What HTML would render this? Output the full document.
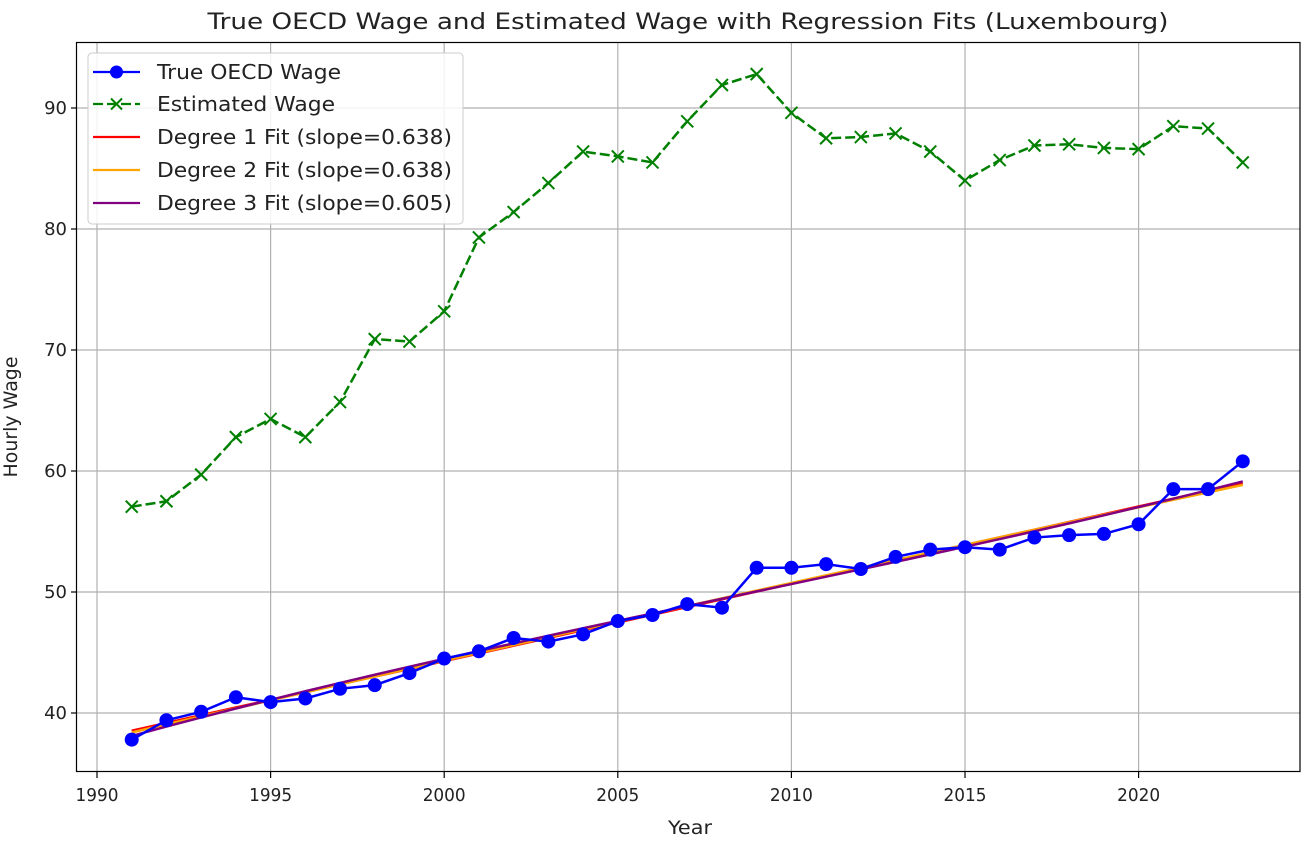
<!DOCTYPE html>
<html><head><meta charset="utf-8"><style>
body{margin:0;background:#fff;}
svg text{font-family:"DejaVu Sans","Liberation Sans",sans-serif;fill:#222;}
</style></head><body>
<svg id="chart" width="1304" height="840" viewBox="0 0 1304 840" xmlns="http://www.w3.org/2000/svg">
<rect x="0" y="0" width="1304" height="840" fill="#fff"/>
<text x="688" y="29" font-size="22" text-anchor="middle" textLength="961" lengthAdjust="spacingAndGlyphs">True OECD Wage and Estimated Wage with Regression Fits (Luxembourg)</text>
<g id="grid"></g>
<g id="fits"></g>
<g id="series"></g>
<rect x="76.5" y="42.5" width="1223.5" height="729" fill="none" stroke="#000" stroke-width="1.2"/>
<g id="ticks"></g>
<text x="690" y="834" font-size="19" text-anchor="middle" textLength="44" lengthAdjust="spacingAndGlyphs">Year</text>
<text transform="translate(17,417) rotate(-90)" font-size="19" text-anchor="middle" textLength="121" lengthAdjust="spacingAndGlyphs">Hourly Wage</text>
<g id="legend">
<rect x="88" y="53" width="375" height="171" rx="4" fill="#fff" fill-opacity="0.85" stroke="#ccc"/>
<g><line x1="93" y1="72" x2="140" y2="72" stroke="#0000ff" stroke-width="2.2"/><circle cx="116.5" cy="72" r="6.5" fill="#0000ff"/><text x="157" y="79" font-size="20" textLength="184" lengthAdjust="spacingAndGlyphs">True OECD Wage</text></g>
<g><line x1="93" y1="104" x2="140" y2="104" stroke="#008000" stroke-width="2.2" stroke-dasharray="10,4"/><path d="M111,98.5 L122,109.5 M111,109.5 L122,98.5" stroke="#008000" stroke-width="2"/><text x="157" y="111" font-size="20" textLength="178" lengthAdjust="spacingAndGlyphs">Estimated Wage</text></g>
<g><line x1="93" y1="137" x2="140" y2="137" stroke="#ff0000" stroke-width="2.2"/><text x="157" y="144" font-size="20" textLength="295" lengthAdjust="spacingAndGlyphs">Degree 1 Fit (slope=0.638)</text></g>
<g><line x1="93" y1="170" x2="140" y2="170" stroke="#ffa500" stroke-width="2.2"/><text x="157" y="177" font-size="20" textLength="295" lengthAdjust="spacingAndGlyphs">Degree 2 Fit (slope=0.638)</text></g>
<g><line x1="93" y1="203" x2="140" y2="203" stroke="#800080" stroke-width="2.2"/><text x="157" y="210" font-size="20" textLength="295" lengthAdjust="spacingAndGlyphs">Degree 3 Fit (slope=0.605)</text></g>
</g>
</svg>
<script>
const years=[1991,1992,1993,1994,1995,1996,1997,1998,1999,2000,2001,2002,2003,2004,2005,2006,2007,2008,2009,2010,2011,2012,2013,2014,2015,2016,2017,2018,2019,2020,2021,2022,2023];
const trueWage=[37.8,39.4,40.1,41.3,40.9,41.2,42.0,42.3,43.3,44.5,45.1,46.2,45.9,46.5,47.6,48.1,49.0,48.7,52.0,52.0,52.3,51.9,52.9,53.5,53.7,53.5,54.5,54.7,54.8,55.6,58.5,58.5,60.8];
const estWage=[57.05,57.5,59.7,62.8,64.3,62.8,65.7,70.9,70.7,73.2,79.3,81.4,83.8,86.4,86.0,85.5,88.9,91.9,92.8,89.6,87.5,87.6,87.9,86.4,84.0,85.7,86.9,87.0,86.7,86.6,88.5,88.3,85.5];
const xTicks=[1990,1995,2000,2005,2010,2015,2020];
const yTicks=[40,50,60,70,80,90];
const NS='http://www.w3.org/2000/svg';
const X=v=>97+(v-1990)*34.72;
const Y=v=>713-(v-40)*12.1;
function mk(tag,attrs,parent){const e=document.createElementNS(NS,tag);for(const k in attrs)e.setAttribute(k,attrs[k]);parent.appendChild(e);return e;}
const grid=document.getElementById('grid'),ticks=document.getElementById('ticks');
xTicks.forEach(t=>{
  const g=mk('line',{x1:X(t),x2:X(t),y1:42,y2:772,stroke:'#b0b0b0','stroke-width':1.2},grid);
  
  
  mk('line',{x1:X(t),x2:X(t),y1:772,y2:778,stroke:'#000','stroke-width':1.2},ticks);
  const l=mk('text',{x:X(t),y:801,'font-size':18,'text-anchor':'middle',textLength:43,lengthAdjust:'spacingAndGlyphs'},ticks);l.textContent=t;
  
  
});
yTicks.forEach(t=>{
  const g=mk('line',{x1:77,x2:1300,y1:Y(t),y2:Y(t),stroke:'#b0b0b0','stroke-width':1.2},grid);
  
  
  mk('line',{x1:71,x2:77,y1:Y(t),y2:Y(t),stroke:'#000','stroke-width':1.2},ticks);
  const l=mk('text',{x:67,y:Y(t)+6,'font-size':18,'text-anchor':'end'},ticks);l.textContent=t;
  
  
});
function polyfit(xs,ys,deg){
  const n=deg+1,A=[],b=[];
  for(let i=0;i<n;i++){A.push(new Array(n).fill(0));b.push(0);}
  xs.forEach((x0,k)=>{const x=(x0-2007)/10;for(let i=0;i<n;i++){b[i]+=ys[k]*Math.pow(x,i);for(let j=0;j<n;j++)A[i][j]+=Math.pow(x,i+j);}});
  for(let i=0;i<n;i++){let p=i;for(let r=i+1;r<n;r++)if(Math.abs(A[r][i])>Math.abs(A[p][i]))p=r;[A[i],A[p]]=[A[p],A[i]];[b[i],b[p]]=[b[p],b[i]];
    for(let r=0;r<n;r++){if(r===i)continue;const f=A[r][i]/A[i][i];for(let c=i;c<n;c++)A[r][c]-=f*A[i][c];b[r]-=f*b[i];}}
  const c=b.map((v,i)=>v/A[i][i]);
  return x0=>{const x=(x0-2007)/10;return c.reduce((s,ci,i)=>s+ci*Math.pow(x,i),0);};
}
const fits=document.getElementById('fits');
[[1,'#ff0000','fit-degree-1'],[2,'#ffa500','fit-degree-2'],[3,'#800080','fit-degree-3']].forEach(([d,col,name])=>{
  const f=polyfit(years,trueWage,d);
  const pts=years.map(y=>X(y)+','+Y(f(y))).join(' ');
  const pl=mk('polyline',{points:pts,fill:'none',stroke:col,'stroke-width':2.5},fits);
  
  
});
const series=document.getElementById('series');
const bl=mk('polyline',{points:years.map((y,i)=>X(y)+','+Y(trueWage[i])).join(' '),fill:'none',stroke:'#0000ff','stroke-width':2.5},series);


years.forEach((y,i)=>{
  const c=mk('circle',{cx:X(y),cy:Y(trueWage[i]),r:7,fill:'#0000ff'},series);
  
  
});
const gl=mk('polyline',{points:years.map((y,i)=>X(y)+','+Y(estWage[i])).join(' '),fill:'none',stroke:'#008000','stroke-width':2.5,'stroke-dasharray':'10,4'},series);


years.forEach((y,i)=>{
  const cx=X(y),cy=Y(estWage[i]);
  const p=mk('path',{d:`M${cx-6},${cy-6} L${cx+6},${cy+6} M${cx-6},${cy+6} L${cx+6},${cy-6}`,stroke:'#008000','stroke-width':2},series);
  
  
});
</script>
</body></html>
